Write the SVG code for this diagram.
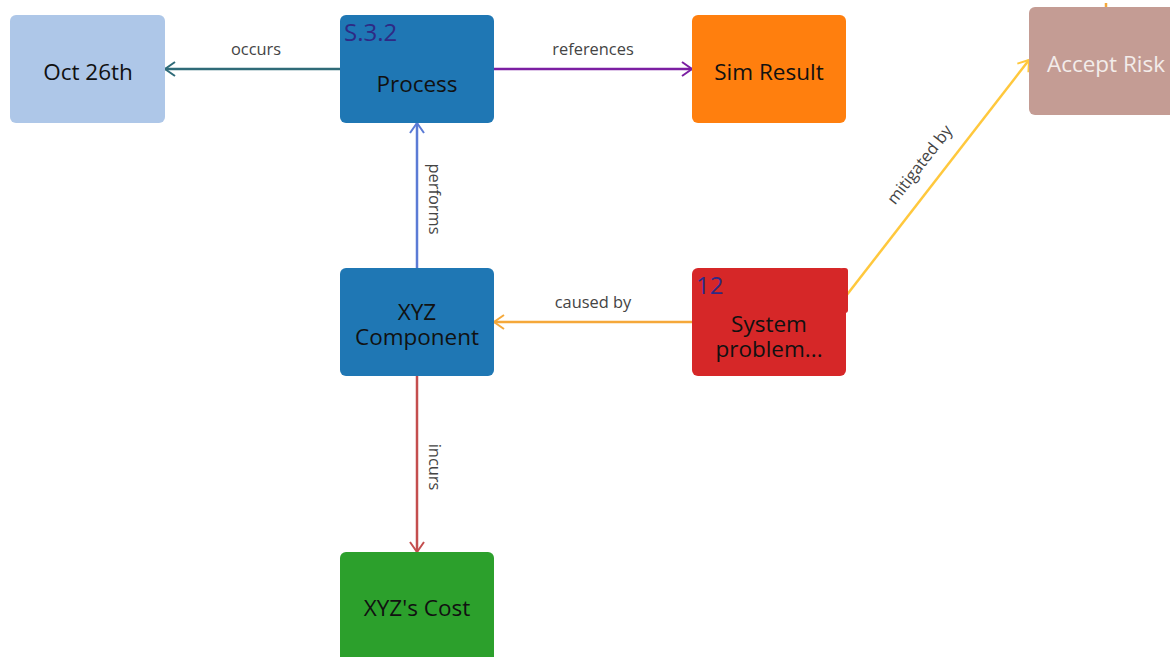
<svg xmlns="http://www.w3.org/2000/svg" width="1170" height="657" viewBox="0 0 1170 657">
  <style>
    .node-label { font-family: "Open Sans", "Noto Sans", sans-serif; font-size: 22.5px; fill: #111; text-anchor: middle; }
    .tag { font-family: "Open Sans", "Noto Sans", sans-serif; font-size: 24px; fill: #2e2a85; }
    .edge-label { font-family: "Open Sans", "Noto Sans", sans-serif; font-size: 16.4px; fill: #444; text-anchor: middle; }
    .edge { fill: none; stroke-width: 2.5; }
  </style>
  <defs>
    <marker id="head-teal" viewBox="0 0 12 16" refX="11" refY="8" markerWidth="12" markerHeight="16" markerUnits="userSpaceOnUse" orient="auto">
      <path d="M1,1 L11,8 L1,15" fill="none" stroke="#2f6b78" stroke-width="2"/>
    </marker>
    <marker id="head-purple" viewBox="0 0 12 16" refX="11" refY="8" markerWidth="12" markerHeight="16" markerUnits="userSpaceOnUse" orient="auto">
      <path d="M1,1 L11,8 L1,15" fill="none" stroke="#7b1fa2" stroke-width="2"/>
    </marker>
    <marker id="head-blue" viewBox="0 0 12 16" refX="11" refY="8" markerWidth="12" markerHeight="16" markerUnits="userSpaceOnUse" orient="auto">
      <path d="M1,1 L11,8 L1,15" fill="none" stroke="#5b7bd5" stroke-width="2"/>
    </marker>
    <marker id="head-orange" viewBox="0 0 12 16" refX="11" refY="8" markerWidth="12" markerHeight="16" markerUnits="userSpaceOnUse" orient="auto">
      <path d="M1,1 L11,8 L1,15" fill="none" stroke="#f5a83a" stroke-width="2"/>
    </marker>
    <marker id="head-red" viewBox="0 0 12 16" refX="11" refY="8" markerWidth="12" markerHeight="16" markerUnits="userSpaceOnUse" orient="auto">
      <path d="M1,1 L11,8 L1,15" fill="none" stroke="#c44e4e" stroke-width="2"/>
    </marker>
    <marker id="head-yellow" viewBox="0 0 12 16" refX="11" refY="8" markerWidth="12" markerHeight="16" markerUnits="userSpaceOnUse" orient="auto">
      <path d="M1,1 L11,8 L1,15" fill="none" stroke="#ffc83d" stroke-width="2"/>
    </marker>
  </defs>

  <rect width="1170" height="657" fill="#ffffff"/>

  <!-- connectors -->
  <g id="connectors">
    <line class="edge" x1="340" y1="69" x2="165" y2="69" stroke="#2f6b78" marker-end="url(#head-teal)"/>
    <text class="edge-label" x="256" y="55">occurs</text>

    <line class="edge" x1="494" y1="69" x2="692" y2="69" stroke="#7b1fa2" marker-end="url(#head-purple)"/>
    <text class="edge-label" x="593" y="55">references</text>

    <line class="edge" x1="417" y1="268" x2="417" y2="123" stroke="#5b7bd5" marker-end="url(#head-blue)"/>
    <text class="edge-label" transform="translate(429,199) rotate(90)">performs</text>

    <line class="edge" x1="692" y1="322" x2="494" y2="322" stroke="#f5a83a" marker-end="url(#head-orange)"/>
    <text class="edge-label" x="593" y="308">caused by</text>

    <line class="edge" x1="417" y1="376" x2="417" y2="552" stroke="#c44e4e" marker-end="url(#head-red)"/>
    <text class="edge-label" transform="translate(429,467) rotate(90)">incurs</text>

    <line class="edge" x1="846" y1="296" x2="1029" y2="60" stroke="#ffc83d" marker-end="url(#head-yellow)"/>
    <text class="edge-label" transform="translate(924,168) rotate(-52.2)">mitigated by</text>

    <!-- stub of an edge entering Accept Risk from above -->
    <line class="edge" x1="1106" y1="3" x2="1106" y2="8" stroke="#f5a83a"/>
  </g>

  <!-- nodes -->
  <g id="node-oct26">
    <rect x="10" y="15" width="155" height="108" rx="6" fill="#aec7e8"/>
    <text class="node-label" x="88" y="80">Oct 26th</text>
  </g>

  <g id="node-process">
    <rect x="340" y="15" width="154" height="108" rx="6" fill="#1f77b4"/>
    <text class="tag" x="344" y="41">S.3.2</text>
    <text class="node-label" x="417" y="92">Process</text>
  </g>

  <g id="node-simresult">
    <rect x="692" y="15" width="154" height="108" rx="6" fill="#ff7f0e"/>
    <text class="node-label" x="769" y="80">Sim Result</text>
  </g>

  <g id="node-acceptrisk">
    <rect x="1029" y="7" width="150" height="108" rx="6" fill="#c49c94"/>
    <text class="node-label" x="1106" y="72" style="fill:#f3ecea">Accept Risk</text>
  </g>

  <g id="node-xyzcomponent">
    <rect x="340" y="268" width="154" height="108" rx="6" fill="#1f77b4"/>
    <text class="node-label" x="417" y="320">XYZ</text>
    <text class="node-label" x="417" y="345">Component</text>
  </g>

  <g id="node-systemproblem">
    <rect x="692" y="268" width="154" height="108" rx="6" fill="#d62728"/>
    <rect x="840" y="268" width="8" height="45" rx="3" fill="#d62728"/>
    <text class="tag" x="696" y="294">12</text>
    <text class="node-label" x="769" y="332">System</text>
    <text class="node-label" x="769" y="357">problem...</text>
  </g>

  <g id="node-xyzcost">
    <rect x="340" y="552" width="154" height="115" rx="6" fill="#2ca02c"/>
    <text class="node-label" x="417" y="616">XYZ's Cost</text>
  </g>
</svg>
